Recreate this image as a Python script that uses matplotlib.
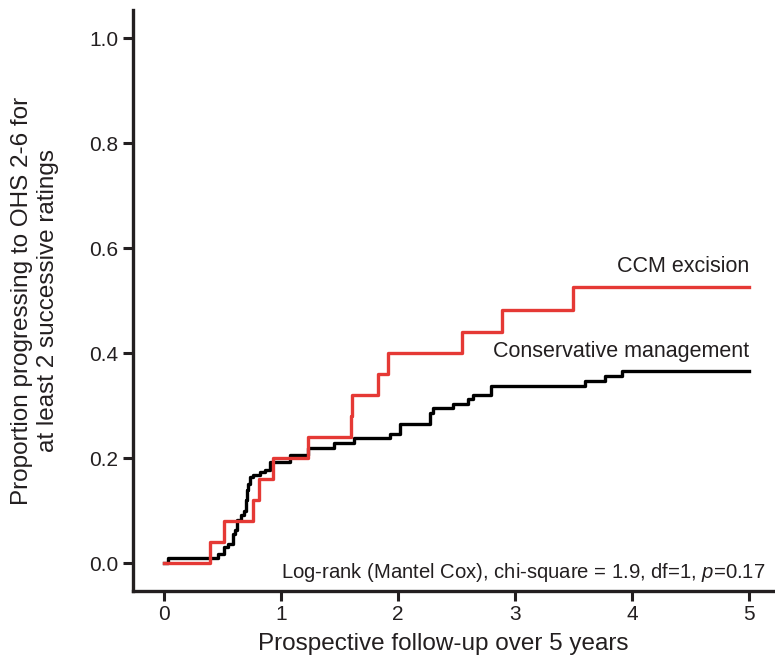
import matplotlib
matplotlib.use('Agg')
import matplotlib.pyplot as plt

plt.rcParams['font.family'] = 'Liberation Sans'
plt.rcParams['mathtext.fontset'] = 'custom'
plt.rcParams['mathtext.rm'] = 'Liberation Sans'
plt.rcParams['mathtext.it'] = 'Liberation Sans:italic'
ink = '#231f20'
plt.rcParams['text.color'] = ink
plt.rcParams['axes.labelcolor'] = ink

# Kaplan-Meier style cumulative curves
ccm_t = [0, 0.39, 0.51, 0.76, 0.81, 0.93, 1.23, 1.60, 1.61, 1.83, 1.91, 2.55, 2.89, 3.49, 5.0]
ccm_y = [0, 0.04, 0.08, 0.12, 0.16, 0.20, 0.24, 0.28, 0.32, 0.36, 0.40, 0.44, 0.483, 0.526, 0.526]

cons_t = [0, 0.03, 0.46, 0.51, 0.55, 0.59, 0.605, 0.62, 0.66, 0.68, 0.70, 0.71, 0.72, 0.735, 0.76,
          0.82, 0.86, 0.905, 1.08, 1.23, 1.45, 1.62, 1.93, 2.02, 2.27, 2.30, 2.47, 2.60, 2.64,
          2.79, 3.60, 3.77, 3.91, 5.0]
cons_y = [0, 0.009, 0.018, 0.030, 0.037, 0.055, 0.064, 0.082, 0.091, 0.10, 0.12, 0.139, 0.15, 0.164, 0.168,
          0.174, 0.177, 0.193, 0.206, 0.220, 0.229, 0.2375, 0.246, 0.265, 0.285, 0.295, 0.303, 0.312, 0.32,
          0.338, 0.347, 0.357, 0.366, 0.366]

xticks = [0, 1, 2, 3, 4, 5]
yticks = [0.0, 0.2, 0.4, 0.6, 0.8, 1.0]

fig = plt.figure(figsize=(7.75, 6.57), dpi=100)
ax = fig.add_axes([0.1716, 0.1005, 0.8284, 0.884])

ax.step(cons_t, cons_y, where='post', color='black', lw=2.4, zorder=2)
ax.step(ccm_t, ccm_y, where='post', color='#e53935', lw=2.4, zorder=3)

ax.text(5.0, 0.545, 'CCM excision', ha='right', va='bottom', fontsize=15.5)
ax.text(5.0, 0.383, 'Conservative management', ha='right', va='bottom', fontsize=15.5)
ax.text(5.14, -0.017, 'Log-rank (Mantel Cox), chi-square = 1.9, df=1, $\\it{p}$=0.17',
        ha='right', va='center', fontsize=14.6)

ax.set_xlim(-0.265, 5.22)
ax.set_ylim(-0.053, 1.053)
ax.set_xticks(xticks)
ax.set_yticks(yticks)
ax.set_yticklabels(['%.1f' % v for v in yticks])
ax.tick_params(labelsize=15, width=2.2, length=7, direction='out', color=ink, labelcolor=ink)
ax.tick_params(axis='y', pad=3.5)
ax.tick_params(axis='x', pad=3)

for s in ['top', 'right']:
    ax.spines[s].set_visible(False)
for s in ['left', 'bottom']:
    ax.spines[s].set_linewidth(2.4)
    ax.spines[s].set_color(ink)

ax.set_xlabel('Prospective follow-up over 5 years', fontsize=17.5, labelpad=4)
ax.xaxis.set_label_coords(0.483, -0.073)
ax.set_ylabel('Proportion progressing to OHS 2-6 for\nat least 2 successive ratings', fontsize=17.5,
              labelpad=22)

fig.savefig('out.png', dpi=100)
